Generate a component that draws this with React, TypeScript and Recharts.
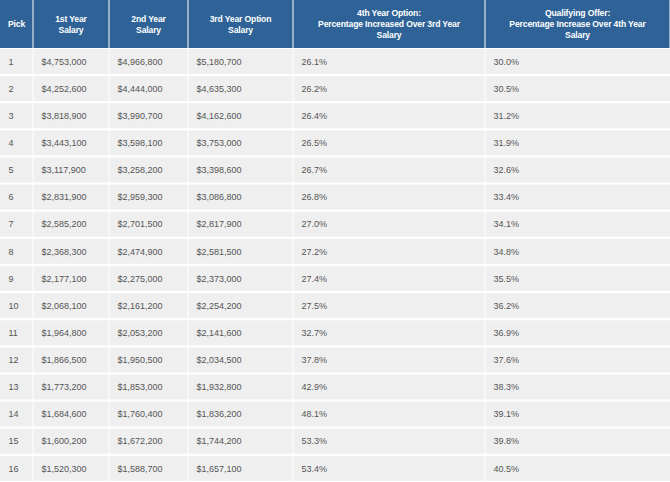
import { BarChart, Bar, XAxis, YAxis } from 'recharts'

// rookie scale by draft pick
const picks = [1, 2, 3, 4, 5, 6, 7, 8, 9, 10, 11, 12, 13, 14, 15, 16]
const firstYear = [
  4753000, 4252600, 3818900, 3443100, 3117900, 2831900, 2585200, 2368300,
  2177100, 2068100, 1964800, 1866500, 1773200, 1684600, 1600200, 1520300,
]
const secondYear = [
  4966800, 4444000, 3990700, 3598100, 3258200, 2959300, 2701500, 2474900,
  2275000, 2161200, 2053200, 1950500, 1853000, 1760400, 1672200, 1588700,
]
const thirdYear = [
  5180700, 4635300, 4162600, 3753000, 3398600, 3086800, 2817900, 2581500,
  2373000, 2254200, 2141600, 2034500, 1932800, 1836200, 1744200, 1657100,
]
const fourthYearPct = [
  26.1, 26.2, 26.4, 26.5, 26.7, 26.8, 27.0, 27.2, 27.4, 27.5, 32.7, 37.8, 42.9, 48.1, 53.3, 53.4,
]
const qualifyingPct = [
  30.0, 30.5, 31.2, 31.9, 32.6, 33.4, 34.1, 34.8, 35.5, 36.2, 36.9, 37.6, 38.3, 39.1, 39.8, 40.5,
]
const headers = [
  ['Pick'],
  ['1st Year', 'Salary'],
  ['2nd Year', 'Salary'],
  ['3rd Year Option', 'Salary'],
  ['4th Year Option:', 'Percentage Increased Over 3rd Year', 'Salary'],
  ['Qualifying Offer:', 'Percentage Increase Over 4th Year', 'Salary'],
]

// layout
const W = 670
const H = 482
const HEADER_H = 48
const colEdges = [0, 33, 109, 188, 293, 485, 670]
const FONT = '"Liberation Sans", Arial, sans-serif'
const BLUE = '#2f6397'
const CELL = '#efefef'
const TEXT = '#555555'

const money = (v: number) => '$' + v.toLocaleString('en-US')
const pct = (v: number) => v.toFixed(1) + '%'

const rows = picks.map((p, i) => ({
  pick: String(p),
  span: W,
  cells: [
    String(p),
    money(firstYear[i]),
    money(secondYear[i]),
    money(thirdYear[i]),
    pct(fourthYearPct[i]),
    pct(qualifyingPct[i]),
  ],
}))

const colCenters = colEdges.slice(0, -1).map((e, i) => (e + colEdges[i + 1]) / 2)

function HeaderTick(props: any) {
  const { x, index } = props
  const left = colEdges[index]
  const right = colEdges[index + 1]
  const lines = headers[index]
  const mid = HEADER_H / 2
  const lh = 11
  const first = mid - ((lines.length - 1) * lh) / 2
  return (
    <g>
      <rect
        x={left === 0 ? 0 : left + 0.5}
        y={0}
        width={right - left - (left === 0 ? 0.5 : 1)}
        height={HEADER_H}
        fill={BLUE}
      />
      {lines.map((t, j) => (
        <text
          key={j}
          x={x}
          y={first + j * lh + 3.1}
          textAnchor="middle"
          fill="#ffffff"
          fontFamily={FONT}
          fontWeight="bold"
          fontSize={8.6}
          letterSpacing={-0.15}
        >
          {t}
        </text>
      ))}
    </g>
  )
}

function RowShape(props: any) {
  const { x, y, width, height, payload } = props
  const k = width / W
  return (
    <g>
      {payload.cells.map((c: string, j: number) => {
        const l = x + colEdges[j] * k
        const r = x + colEdges[j + 1] * k
        const x0 = j === 0 ? l : l + 0.5
        const x1 = j === colEdges.length - 2 ? r : r - 0.5
        return (
          <g key={j}>
            <rect x={x0} y={y + 1} width={x1 - x0} height={height - 2} fill={CELL} />
            <text
              x={l + 8.5}
              y={y + height / 2 + 3.2}
              fill={TEXT}
              fontFamily={FONT}
              fontSize={9}
            >
              {c}
            </text>
          </g>
        )
      })}
    </g>
  )
}

export default function App() {
  return (
    <div style={{ position: 'absolute', left: 0, top: 0, background: '#ffffff' }}>
      <BarChart
        width={W}
        height={H}
        data={rows}
        layout="vertical"
        barCategoryGap={0}
        margin={{ top: 0, right: 0, bottom: 0, left: 0 }}
      >
        <XAxis
          type="number"
          orientation="top"
          domain={[0, W]}
          ticks={colCenters}
          interval={0}
          height={HEADER_H}
          axisLine={false}
          tickLine={false}
          tick={<HeaderTick />}
        />
        <YAxis type="category" dataKey="pick" hide />
        <Bar dataKey="span" shape={<RowShape />} isAnimationActive={false} />
      </BarChart>
    </div>
  )
}
